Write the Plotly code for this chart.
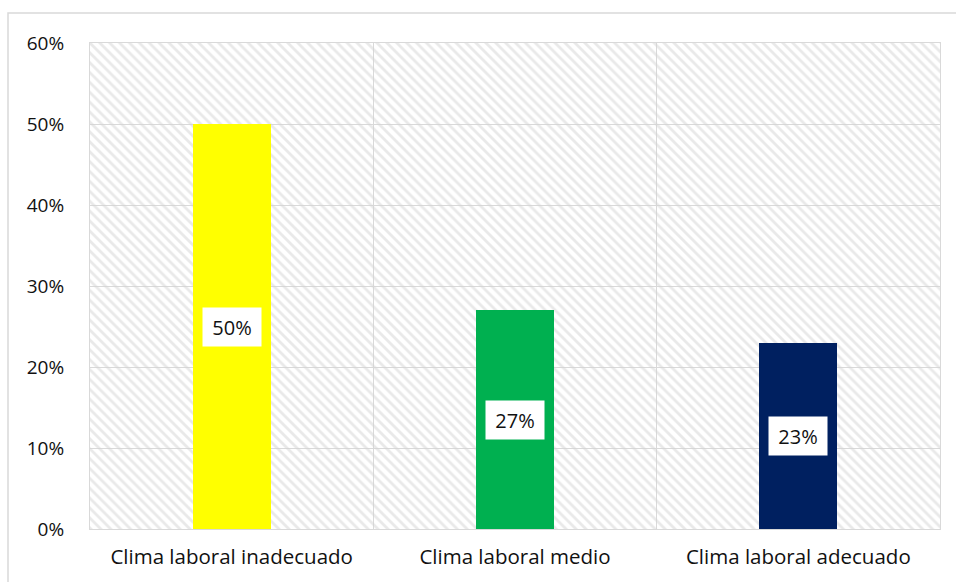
import plotly.graph_objects as go

categories = ["Clima laboral inadecuado", "Clima laboral medio", "Clima laboral adecuado"]
values = [0.50, 0.27, 0.23]
labels = ["50%", "27%", "23%"]
colors = ["#FFFF00", "#00B050", "#002060"]

W, H = 956, 582
L, R, T, B = 90, 16, 43, 53
pw, ph = W - L - R, H - T - B

fig = go.Figure()

# hatched background of the plot area
fig.add_trace(go.Bar(
    x=[categories[1]], y=[0.6], width=3,
    marker=dict(color="rgba(0,0,0,0)", line=dict(width=0),
                pattern=dict(shape="\\", fgcolor="#d4d4d4", bgcolor="rgba(0,0,0,0)",
                             size=7, solidity=0.4)),
    hoverinfo="skip", showlegend=False,
))

fig.add_trace(go.Bar(
    x=categories, y=values, width=0.275,
    marker=dict(color=colors, line=dict(width=0)),
    showlegend=False,
))

for c, v, t in zip(categories, values, labels):
    fig.add_annotation(x=c, y=v / 2, text=t, showarrow=False,
                       bgcolor="white", width=50, height=30, borderpad=4,
                       font=dict(family="Open Sans", size=20, color="#111111"))

# outer chart border
fig.add_shape(type="rect", xref="paper", yref="paper",
              x0=(8 - L) / pw, x1=(W + 10 - L) / pw,
              y0=-(B + 10) / ph, y1=(H - B - 13) / ph,
              line=dict(color="#d9d9d9", width=1.5), fillcolor="rgba(0,0,0,0)",
              layer="below")

fig.update_layout(
    width=W, height=H,
    margin=dict(l=L, r=R, t=T, b=B),
    paper_bgcolor="white", plot_bgcolor="white",
    barmode="overlay", bargap=0,
    font=dict(family="Open Sans", size=20, color="#111111"),
    xaxis=dict(type="category", categoryorder="array", categoryarray=categories,
               tickson="boundaries", showgrid=True,
               gridcolor="#d9d9d9", gridwidth=1, showline=True, mirror=True,
               linecolor="#d9d9d9", linewidth=1, ticks="", range=[-0.5, 2.5],
               ticklabelstandoff=9, tickfont=dict(size=20.5)),
    yaxis=dict(range=[0, 0.6], dtick=0.1, tickformat=".0%", showgrid=True,
               gridcolor="#d9d9d9", gridwidth=1, showline=True, mirror=True,
               linecolor="#d9d9d9", linewidth=1, ticks="", ticklabelstandoff=21,
               zeroline=False, tickfont=dict(size=19)),
)

fig.write_html("out.html")
